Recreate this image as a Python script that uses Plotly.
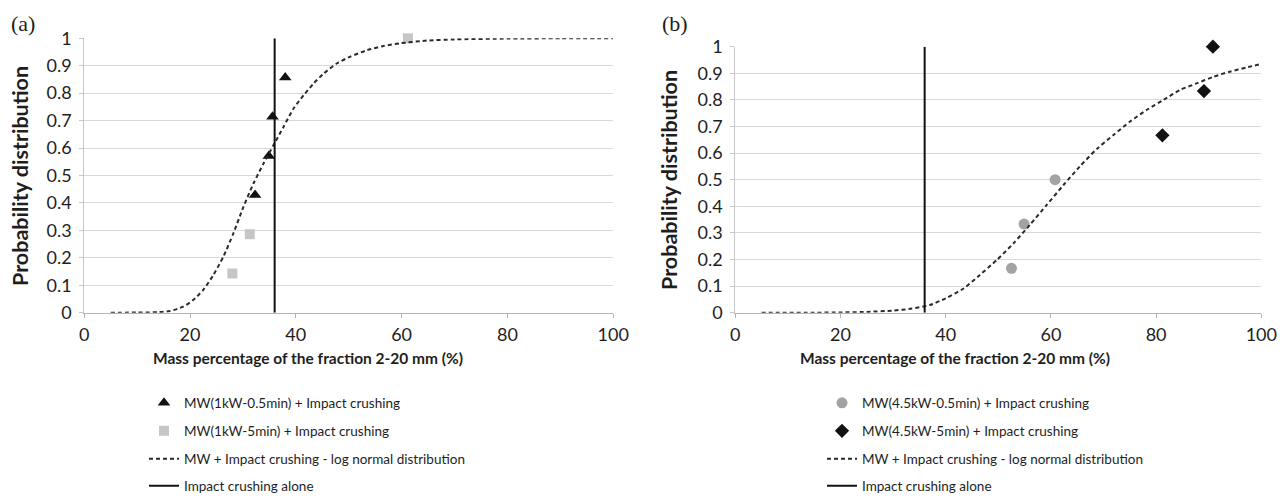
import plotly.graph_objects as go

# page is 1287x498; the HTML body adds an 8px margin, so the figure is 8px smaller
OFF = 8
W, H = 1287 - OFF, 498 - OFF

# ---------------- data ----------------
# panel (a)
a_tri_x = [32.3, 34.9, 35.6, 38.0]
a_tri_y = [0.429, 0.571, 0.714, 0.857]
a_sq_x = [28.0, 31.3, 61.2]
a_sq_y = [0.143, 0.286, 1.0]
a_fit_x = [5, 10, 14, 16.2, 18.7, 20.6, 22.5, 24.4, 26.3, 28.2, 30.1, 32.0, 33.9, 35.8,
           37.7, 39.6, 41.5, 43.4, 45.3, 47.8, 50.3, 53.5, 56.6, 59.8, 65, 70, 80, 90, 100]
a_fit_y = [0.0, 0.0005, 0.002, 0.006, 0.022, 0.046, 0.083, 0.137, 0.204, 0.289, 0.386, 0.471, 0.544, 0.611,
           0.678, 0.745, 0.793, 0.836, 0.872, 0.909, 0.933, 0.957, 0.972, 0.982, 0.992, 0.996, 0.999, 1.0, 1.0]
a_alone_x = [36, 36]
a_alone_y = [0, 1]

# panel (b)
b_circ_x = [52.5, 54.9, 60.8]
b_circ_y = [0.167, 0.333, 0.5]
b_dia_x = [81.2, 89.1, 90.8]
b_dia_y = [0.667, 0.833, 1.0]
b_fit_x = [5, 15, 20, 25, 30, 33, 37.0, 40, 43.4, 46.5, 49.7, 52.9, 56.0, 59.2, 62.4, 65.5, 68.7,
           71.9, 75.0, 78.2, 81.4, 84.5, 87.7, 90.9, 94.0, 97.2, 100]
b_fit_y = [0.0, 0.0, 0.001, 0.003, 0.008, 0.014, 0.029, 0.054, 0.091, 0.142, 0.198, 0.261, 0.330, 0.405,
           0.480, 0.550, 0.615, 0.668, 0.718, 0.762, 0.800, 0.837, 0.862, 0.887, 0.906, 0.922, 0.935]
b_alone_x = [36, 36]
b_alone_y = [0, 1]

x_ticks = [0, 20, 40, 60, 80, 100]
y_ticks = [0, 0.1, 0.2, 0.3, 0.4, 0.5, 0.6, 0.7, 0.8, 0.9, 1]
y_ticktext = ["0", "0.1", "0.2", "0.3", "0.4", "0.5", "0.6", "0.7", "0.8", "0.9", "1"]

x_title = "Mass percentage of the fraction 2-20 mm (%)"
y_title = "Probability distribution"
names_a = ["MW(1kW-0.5min) + Impact crushing", "MW(1kW-5min) + Impact crushing",
           "MW + Impact crushing - log normal distribution", "Impact crushing alone"]
names_b = ["MW(4.5kW-0.5min) + Impact crushing", "MW(4.5kW-5min) + Impact crushing",
           "MW + Impact crushing - log normal distribution", "Impact crushing alone"]

# ---------------- helpers (page pixel -> paper fraction) ----------------
def px(x):
    return (x - OFF) / W

def py(y):
    return 1 - (y - OFF) / H

FONT = "Lato, 'Open Sans', sans-serif"
TXT = "#1e1e1e"

fig = go.Figure()

# panel (a) traces
fig.add_trace(go.Scatter(x=a_tri_x, y=a_tri_y, mode="markers", name=names_a[0],
                         marker=dict(symbol="triangle-up", size=11, color="#111111"),
                         xaxis="x", yaxis="y", legend="legend", cliponaxis=False))
fig.add_trace(go.Scatter(x=a_sq_x, y=a_sq_y, mode="markers", name=names_a[1],
                         marker=dict(symbol="square", size=10, color="#c6c6c6"),
                         xaxis="x", yaxis="y", legend="legend2", cliponaxis=False))
fig.add_trace(go.Scatter(x=a_fit_x, y=a_fit_y, mode="lines", name=names_a[2],
                         line=dict(color="#2a2a2a", width=2, dash="4px,3px", shape="spline", smoothing=0.6),
                         xaxis="x", yaxis="y", legend="legend3"))
fig.add_trace(go.Scatter(x=a_alone_x, y=a_alone_y, mode="lines", name=names_a[3],
                         line=dict(color="#111111", width=2),
                         xaxis="x", yaxis="y", legend="legend4"))

# panel (b) traces
fig.add_trace(go.Scatter(x=b_circ_x, y=b_circ_y, mode="markers", name=names_b[0],
                         marker=dict(symbol="circle", size=11, color="#a3a3a3"),
                         xaxis="x2", yaxis="y2", legend="legend5", cliponaxis=False))
fig.add_trace(go.Scatter(x=b_dia_x, y=b_dia_y, mode="markers", name=names_b[1],
                         marker=dict(symbol="diamond", size=11, color="#111111"),
                         xaxis="x2", yaxis="y2", legend="legend6", cliponaxis=False))
fig.add_trace(go.Scatter(x=b_fit_x, y=b_fit_y, mode="lines", name=names_b[2],
                         line=dict(color="#2a2a2a", width=2, dash="4px,3px", shape="spline", smoothing=0.6),
                         xaxis="x2", yaxis="y2", legend="legend7"))
fig.add_trace(go.Scatter(x=b_alone_x, y=b_alone_y, mode="lines", name=names_b[3],
                         line=dict(color="#111111", width=2),
                         xaxis="x2", yaxis="y2", legend="legend8"))

xaxis_common = dict(range=[0, 100], tickvals=x_ticks, showgrid=False, zeroline=False,
                    showline=True, linecolor="#b4b4b4", linewidth=1,
                    ticks="outside", ticklen=4, tickcolor="#b4b4b4",
                    tickfont=dict(family=FONT, size=18, color=TXT), ticklabelstandoff=2,
                    fixedrange=True)
yaxis_common = dict(range=[0, 1], tickvals=y_ticks, ticktext=y_ticktext, showgrid=True,
                    gridcolor="#d9d9d9", gridwidth=1, zeroline=False,
                    showline=True, linecolor="#c8c8c8", linewidth=1,
                    ticks="outside", ticklen=4, tickcolor="#c8c8c8",
                    tickfont=dict(family=FONT, size=18, color=TXT), ticklabelstandoff=4,
                    fixedrange=True)

fig.update_layout(
    width=W, height=H,
    margin=dict(l=0, r=0, t=0, b=0, autoexpand=False),
    paper_bgcolor="white", plot_bgcolor="white",
    xaxis=dict(domain=[px(84.2), px(613.2)], anchor="y", **xaxis_common),
    yaxis=dict(domain=[py(312.7), py(38.3)], anchor="x", **yaxis_common),
    xaxis2=dict(domain=[px(735.3), px(1261.3)], anchor="y2", **xaxis_common),
    yaxis2=dict(domain=[py(312.7), py(46.7)], anchor="x2", **yaxis_common),
    showlegend=True,
)

# legends: one per entry, positioned like the reference
leg_rows = [403, 431, 459, 486]
leg_font = dict(family=FONT, size=13.5, color=TXT)
leg_keys = ["legend", "legend2", "legend3", "legend4", "legend5", "legend6", "legend7", "legend8"]
leg_x = [px(144)] * 4 + [px(822)] * 4
for i, key in enumerate(leg_keys):
    fig.update_layout(**{key: dict(x=leg_x[i], y=py(leg_rows[i % 4]), xanchor="left", yanchor="middle",
                                   orientation="v", bgcolor="rgba(0,0,0,0)", borderwidth=0,
                                   font=leg_font, itemclick=False, itemdoubleclick=False)})

# axis titles
TFONT = dict(family=FONT, size=15.5, color=TXT, weight="bold")
YFONT = dict(family=FONT, size=21.5, color=TXT, weight="bold")
annots = [
    dict(text=x_title, x=px(308), y=py(358), font=TFONT, textangle=0),
    dict(text=x_title, x=px(955), y=py(358), font=TFONT, textangle=0),
    dict(text=y_title, x=px(20), y=py(176), font=YFONT, textangle=-90),
    dict(text=y_title, x=px(669), y=py(180), font=YFONT, textangle=-90),
]
for a in annots:
    fig.add_annotation(xref="paper", yref="paper", xanchor="center", yanchor="middle",
                       showarrow=False, **a)

# panel labels, anchored inside the figure so they are not clipped
PFONT = dict(family="'Liberation Serif', serif", size=22, color=TXT)
fig.add_annotation(text="(a)", xref="paper", yref="paper", x=px(9), y=py(8.5),
                   xanchor="left", yanchor="top", showarrow=False, font=PFONT)
fig.add_annotation(text="(b)", xref="paper", yref="paper", x=px(660), y=py(9),
                   xanchor="left", yanchor="top", showarrow=False, font=PFONT)

fig.write_html("out.html")
